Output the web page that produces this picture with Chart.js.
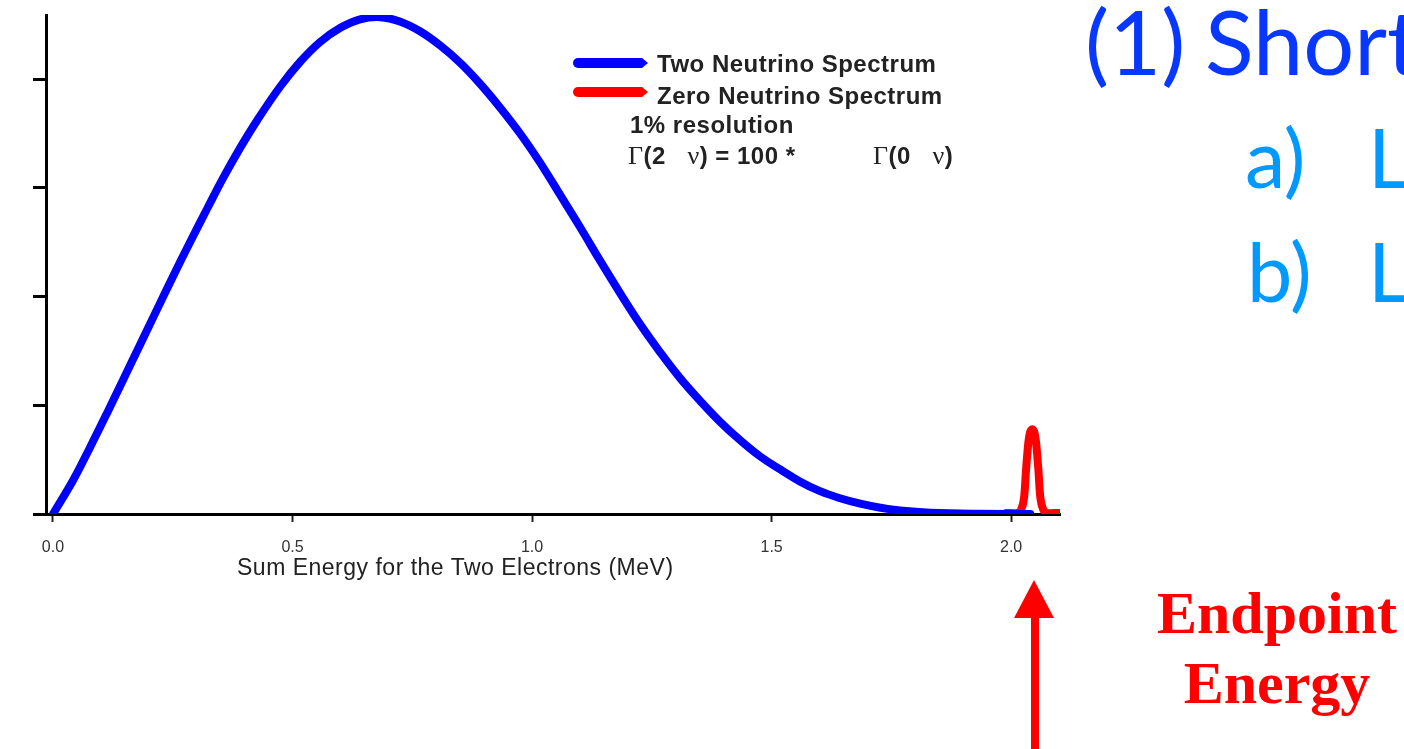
<!DOCTYPE html>
<html>
<head>
<meta charset="utf-8">
<script src="https://cdn.jsdelivr.net/npm/chart.js@4.4.1/dist/chart.umd.min.js"></script>
<style>
  html, body { margin: 0; padding: 0; background: #fff; }
  #stage { position: relative; width: 1404px; height: 749px; overflow: hidden; }
  #chart { position: absolute; left: 0; top: 0; }
  .abs { position: absolute; white-space: nowrap; }
  .legend-text { font: bold 24px "Liberation Sans", Arial, sans-serif; line-height: 24px; color: #222; letter-spacing: 0.5px; }
  .sym { font-family: "Liberation Serif", "Times New Roman", serif; font-weight: normal; font-size: 26px; }
  .axis-title { font: 23px "Liberation Sans", Arial, sans-serif; line-height: 22px; color: #222; letter-spacing: 0.5px; }
  .slide { font-family: Lato, "Open Sans", sans-serif; line-height: 1; }
  .endpoint { font: bold 60px "Liberation Serif", "Times New Roman", serif; line-height: 70px; color: #ff0000; text-align: center; }
</style>
</head>
<body>
<div id="stage">
  <canvas id="chart" width="1404" height="749"></canvas>

  <svg class="abs" style="left:0;top:0" width="1404" height="749">
    <path d="M578 58 L642 58 L648 63 L642 68 L578 68 A5 5 0 0 1 578 58 Z" fill="#0000ff"/>
    <path d="M578 87 L642 87 L648 92 L642 97 L578 97 A5 5 0 0 1 578 87 Z" fill="#ff0000"/>
    <polygon points="1014,618 1054,618 1034,580" fill="#ff0000"/>
    <rect x="1031" y="612" width="8" height="140" fill="#ff0000"/>
  </svg>

  <div class="abs legend-text" style="left:657px;top:52px">Two Neutrino Spectrum</div>
  <div class="abs legend-text" style="left:657px;top:84px">Zero Neutrino Spectrum</div>
  <div class="abs legend-text" style="left:630px;top:113px">1% resolution</div>
  <div class="abs legend-text" style="left:628px;top:144px"><span class="sym">Γ</span>(2&nbsp;&nbsp;&nbsp;<span class="sym">ν</span>) = 100 *</div>
  <div class="abs legend-text" style="left:873px;top:144px"><span class="sym">Γ</span>(0&nbsp;&nbsp;&nbsp;<span class="sym">ν</span>)</div>

  <div class="abs axis-title" style="left:237px;top:556px">Sum Energy for the Two Electrons (MeV)</div>

  <div class="abs slide" style="left:1085px;top:-5px;font-size:90px;color:#0838ff">(1)</div>
  <div class="abs slide" style="left:1205px;top:-5px;font-size:90px;color:#0838ff">Short</div>
  <div class="abs slide" style="left:1245px;top:116px;font-size:81px;color:#0099ff">a)</div>
  <div class="abs slide" style="left:1368px;top:116px;font-size:81px;color:#0099ff">L</div>
  <div class="abs slide" style="left:1247px;top:230px;font-size:81px;color:#0099ff">b)</div>
  <div class="abs slide" style="left:1368px;top:230px;font-size:81px;color:#0099ff">L</div>

  <div class="abs endpoint" style="left:1140px;top:578px;width:274px">Endpoint<br>Energy</div>
</div>

<script>
// sum energy (MeV) and relative counts
const twoNuEnergy = [0, 0.042, 0.077, 0.113, 0.146, 0.182, 0.217, 0.251, 0.286, 0.322, 0.355, 0.391, 0.426,
  0.474, 0.516, 0.557, 0.599, 0.641, 0.683, 0.724, 0.766, 0.808, 0.850, 0.891, 0.933, 0.975, 1.017, 1.058,
  1.100, 1.142, 1.184, 1.225, 1.267, 1.309, 1.351, 1.392, 1.434, 1.476, 1.518, 1.559, 1.601, 1.643, 1.685,
  1.727, 1.768, 1.831, 1.935, 2.040];
const twoNuCounts = [0, 0.31, 0.61, 0.93, 1.23, 1.56, 1.88, 2.19, 2.50, 2.81, 3.09, 3.37, 3.62,
  3.93, 4.16, 4.34, 4.47, 4.55, 4.57, 4.53, 4.44, 4.31, 4.15, 3.96, 3.74, 3.50, 3.23, 2.94,
  2.64, 2.33, 2.03, 1.75, 1.49, 1.25, 1.04, 0.85, 0.68, 0.53, 0.41, 0.30, 0.21, 0.145, 0.095,
  0.058, 0.032, 0.012, 0.002, 0.0];

const zeroNuEnergy = [1.990, 2.013, 2.021, 2.027, 2.031, 2.036, 2.040, 2.044, 2.048, 2.052, 2.057, 2.061, 2.067, 2.075, 2.100];
const zeroNuCounts = [0.01, 0.01, 0.04, 0.15, 0.40, 0.66, 0.76, 0.78, 0.76, 0.66, 0.40, 0.15, 0.04, 0.01, 0.01];

const xTickValues = [0, 0.5, 1.0, 1.5, 2.0];
const yTickValues = [0, 1, 2, 3, 4];

const toPoints = (xs, ys) => xs.map((x, i) => ({ x, y: ys[i] }));

const lineStyle = {
  borderWidth: 8,
  pointRadius: 0,
  fill: false,
  tension: 0.4,
  borderCapStyle: "round",
  borderJoinStyle: "round",
};

new Chart(document.getElementById("chart"), {
  type: "line",
  data: {
    datasets: [
      { label: "Two Neutrino Spectrum", data: toPoints(twoNuEnergy, twoNuCounts), borderColor: "#0000ff", ...lineStyle },
      { label: "Zero Neutrino Spectrum", data: toPoints(zeroNuEnergy, zeroNuCounts), borderColor: "#ff0000", ...lineStyle, tension: 0.3 },
    ],
  },
  options: {
    responsive: false,
    animation: false,
    layout: { padding: { top: 15, right: 344, bottom: 169, left: 0 } },
    plugins: { legend: { display: false }, tooltip: { enabled: false } },
    scales: {
      x: {
        type: "linear",
        min: -0.0146,
        max: 2.102,
        afterBuildTicks: (s) => { s.ticks = xTickValues.map((v) => ({ value: v })); },
        afterFit: (s) => { s.height = 66; },
        border: { display: true, color: "#000", width: 3 },
        grid: { display: true, drawOnChartArea: false, drawTicks: true, tickLength: 8, tickColor: "#222", tickWidth: 2 },
        ticks: {
          color: "#333",
          font: { family: "'Liberation Sans', Arial, sans-serif", size: 16 },
          padding: 16,
          maxRotation: 0,
          callback: (v) => Number(v).toFixed(1),
        },
      },
      y: {
        type: "linear",
        min: 0,
        max: 4.59,
        afterBuildTicks: (s) => { s.ticks = yTickValues.map((v) => ({ value: v })); },
        afterFit: (s) => { s.width = 46; },
        border: { display: true, color: "#000", width: 3 },
        grid: { display: true, drawOnChartArea: false, drawTicks: true, tickLength: 13, tickColor: "#000", tickWidth: 3 },
        ticks: { display: false },
      },
    },
  },
});
</script>
</body>
</html>
